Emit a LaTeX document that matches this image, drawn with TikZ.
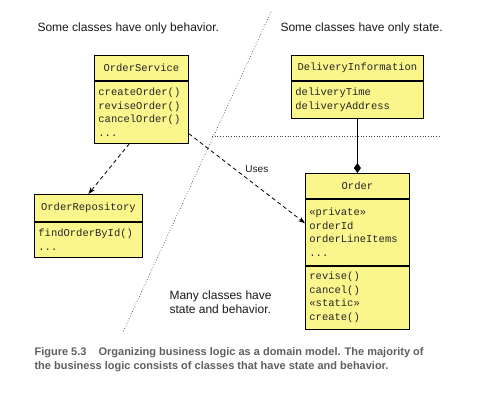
\documentclass[tikz,border=0pt]{standalone}
\usepackage{fontspec}
\setmainfont{Liberation Sans}
\newfontfamily\umlfont{Liberation Mono}
\usetikzlibrary{arrows.meta,positioning}

\definecolor{umlyellow}{RGB}{250,246,140}
\definecolor{captiongray}{RGB}{95,95,95}
\definecolor{divgray}{RGB}{70,70,70}

\tikzset{
  classhead/.style={draw, fill=umlyellow, line width=0.8pt, anchor=north west,
    inner sep=0pt, font=\umlfont\fontsize{10.5}{13.5}\selectfont, text=black!85},
  classbody/.style={classhead, align=left, inner xsep=4pt},
  divider/.style={divgray, dotted, line width=0.7pt},
  uses/.style={dash pattern=on 4pt off 3pt, line width=0.8pt, -{Stealth[length=7pt,width=5pt]}},
  note/.style={font=\fontsize{12}{14}\selectfont, text=black!90, align=left}
}

\begin{document}
\begin{tikzpicture}[x=1pt, y=-1pt]

\useasboundingbox (0,0) rectangle (490,418);

% dividing lines
\coordinate (d1) at (271,12);
\coordinate (d2) at (123,332);
\coordinate (h1) at (212,136);
\coordinate (h2) at (439,136);
\draw[divider] (d1) -- (d2);
\draw[divider] (h1) -- (h2);

% texts
\node[note, anchor=west] (behav) at (34,28) {Some classes have only behavior.};
\node[note, anchor=west] (state) at (277,28) {Some classes have only state.};
\node[note, anchor=north west] (both) at (166,287) {Many classes have\\state and behavior.};

% classes
\node[classhead, minimum width=94pt, minimum height=25pt] (osHead) at (94,55) {OrderService};
\node[classbody, text width=86pt, minimum height=62pt] (osBody) at (osHead.south west) {createOrder()\\reviseOrder()\\cancelOrder()\\...};

\node[classhead, minimum width=108pt, minimum height=27pt] (orHead) at (34,194) {OrderRepository};
\node[classbody, text width=100pt, minimum height=35pt] (orBody) at (orHead.south west) {findOrderById()\\...};

\node[classhead, minimum width=132pt, minimum height=25pt] (diHead) at (291,55) {DeliveryInformation};
\node[classbody, text width=124pt, minimum height=37pt] (diBody) at (diHead.south west) {deliveryTime\\deliveryAddress};

\node[classhead, minimum width=104pt, minimum height=25pt] (ordHead) at (305,173) {Order};
\node[classbody, text width=96pt, minimum height=66pt] (ordAttr) at (ordHead.south west) {«private»\\orderId\\orderLineItems\\...};
\node[classbody, text width=96pt, minimum height=63pt] (ordOps) at (ordAttr.south west) {revise()\\cancel()\\«static»\\create()};

% connectors
\draw[uses] ([xshift=-12pt]osBody.south) -- (orHead.north);
\draw[uses] ([yshift=10pt]osBody.south east) -- node[pos=0.45, anchor=south west, inner sep=1pt, xshift=3pt, font=\fontsize{10}{12}\selectfont, text=black!90] {Uses} ([yshift=9pt]ordAttr.west);
\draw[line width=0.8pt, -{Diamond[length=10pt,width=7pt]}] (diBody.south) -- (ordHead.north);

% caption
\node[anchor=north west, align=left, text=captiongray, font=\bfseries\fontsize{11}{14}\selectfont] (caption) at (31,344)
  {Figure 5.3\hspace{1.1em}Organizing business logic as a domain model. The majority of\\
   the business logic consists of classes that have state and behavior.};

\end{tikzpicture}
\end{document}
